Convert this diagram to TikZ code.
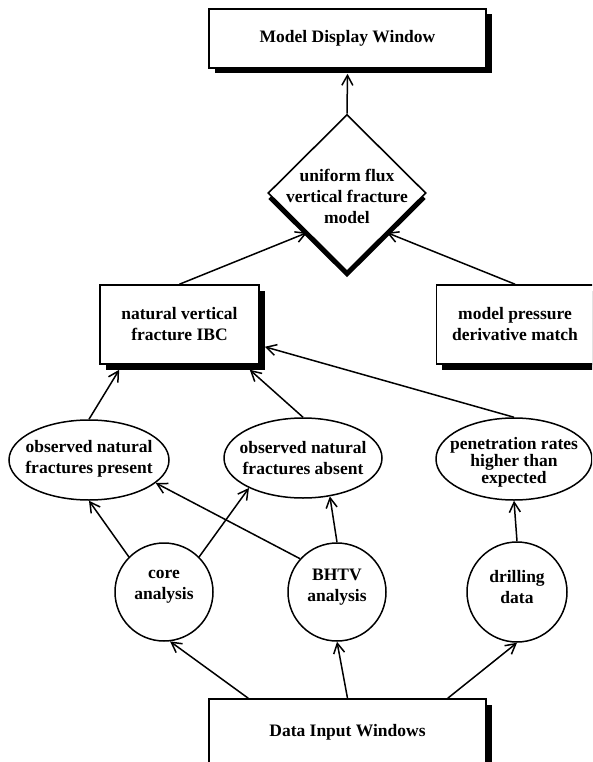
\documentclass[tikz,border=0pt]{standalone}
\usepackage{fontspec}
\setmainfont{Liberation Serif}
\usetikzlibrary{shapes.geometric,arrows.meta,shadows,calc}
\begin{document}
\begin{tikzpicture}[x=1pt,y=-1pt,
  every node/.style={font=\bfseries\fontsize{17.5}{21}\selectfont, align=center, inner sep=0pt},
  box/.style={draw, rectangle, line width=1.6pt, fill=white,
    drop shadow={shadow xshift=5.5pt, shadow yshift=-5.5pt, fill=black, opacity=1}},
  decision/.style={draw, diamond, line width=1.6pt, fill=white,
    drop shadow={shadow xshift=0pt, shadow yshift=-6pt, fill=black, opacity=1}},
  oval/.style={draw, ellipse, line width=1.5pt, fill=white},
  disc/.style={draw, circle, line width=1.5pt, fill=white, minimum size=98pt},
  txt/.style={},
  conn/.style={line width=1.5pt, -{Straight Barb[length=10pt,width=11pt]}}
]
\useasboundingbox (0,0) rectangle (592,762);
\clip (0,0) rectangle (592,762);

% nodes
\node[box, minimum width=277pt, minimum height=59pt] (md) at (347.5,38.5) {Model Display Window};
\node[decision, minimum width=158pt, minimum height=157pt] (dia) at (347,193) {};
\node[txt] (diat) at (347,196) {uniform flux\\vertical fracture\\model};
\node[box, minimum width=159pt, minimum height=79pt] (ibc) at (179.5,324.5) {natural vertical\\fracture IBC};
\node[box, minimum width=161pt, minimum height=79pt] (mpd) at (517,324.5) {};
\node[txt] (mpdt) at (515,324.5) {model pressure\\derivative match};

\node[oval, minimum width=160pt, minimum height=80pt] (pres) at (89,460) {};
\node[txt] (prest) at (89,459) {observed natural\\fractures present};
\node[oval, minimum width=158pt, minimum height=80pt] (abs) at (303,458) {};
\node[txt] (abst) at (303,458) {observed natural\\fractures absent};
\node[oval, minimum width=156pt, minimum height=82pt] (pen) at (514,459) {};
\node[txt, font=\bfseries\fontsize{17.5}{15}\selectfont] (pent) at (514,462) {penetration rates\\higher than\\expected};

\node[disc] (core) at (164,592) {};
\node[txt] (coret) at (164,587) {core\\analysis};
\node[disc] (bhtv) at (337,592) {};
\node[txt] (bhtvt) at (337,587) {BHTV\\analysis};
\node[disc, minimum size=100pt] (drill) at (517,592) {};
\node[txt] (drillt) at (517,587) {drilling\\data};

\node[box, minimum width=277pt, minimum height=67pt] (din) at (347.5,732.5) {Data Input Windows};

% connectors
\draw[conn] (dia.north) -- ([yshift=-5pt]md.south);
\draw[conn] (ibc.north) -- (dia.south west);
\draw[conn] ([xshift=-2pt]mpd.north) -- (dia.south east);
\draw[conn] (pres.north) -- ($(ibc.south west)+(20,5)$);
\draw[conn] (abs.north) -- ($(ibc.south east)+(-10,5)$);
\draw[conn] (pen.north) -- ($(ibc.south east)+(5,-18)$);
\draw[conn] (core.135) -- (pres.south);
\draw[conn] (core.45) -- (abs.209);
\draw[conn] (bhtv.138) -- (pres.-19);
\draw[conn] (bhtv.north) -- (abs.-55);
\draw[conn] (drill.north) -- (pen.south);
\draw[conn] ($(din.north west)+(40,0)$) -- (core.-83);
\draw[conn] (din.north) -- (bhtv.south);
\draw[conn] ($(din.north east)+(-39,0)$) -- (drill.south);
\end{tikzpicture}
\end{document}
